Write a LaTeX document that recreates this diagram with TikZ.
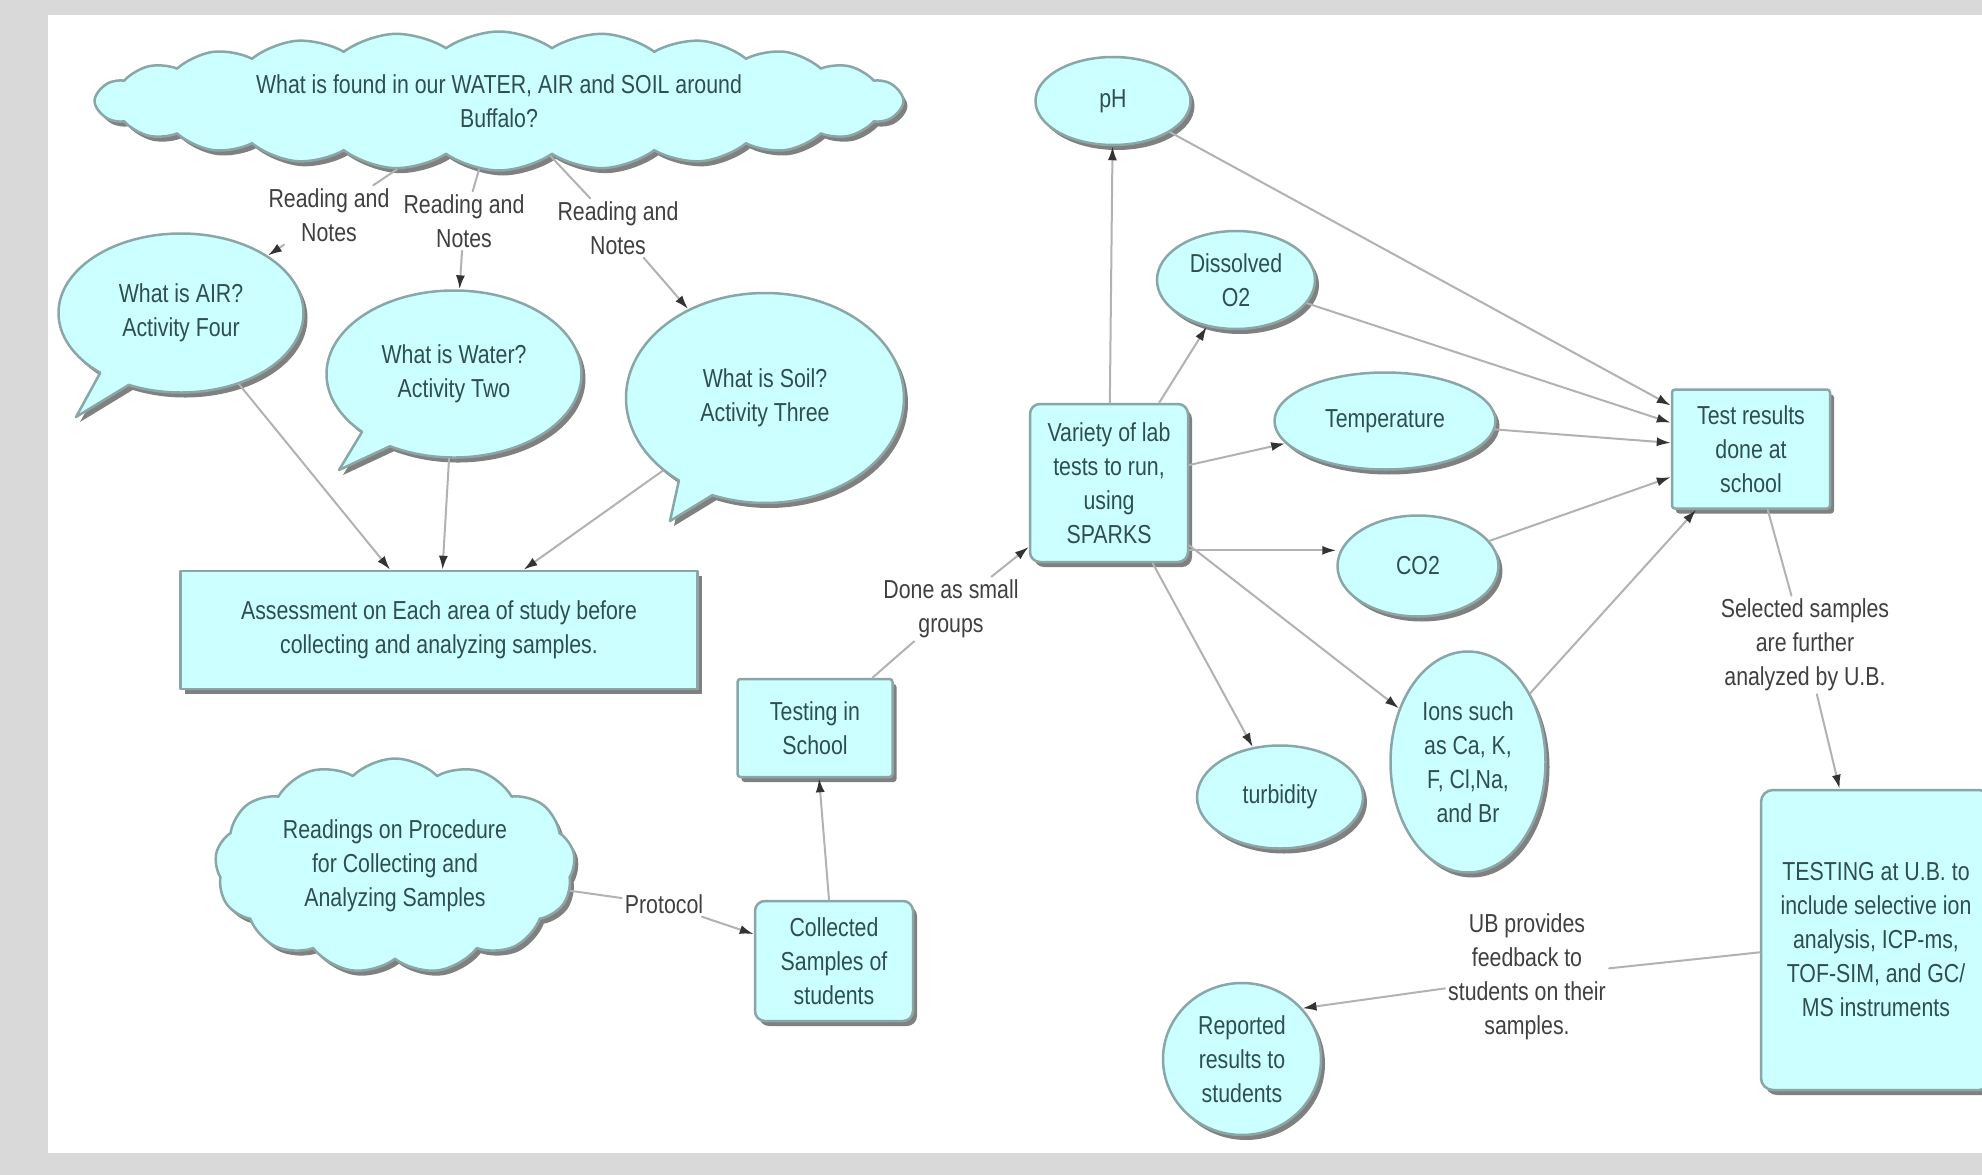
\documentclass[tikz,border=0pt]{standalone}
\usepackage{fontspec}
\setmainfont[FakeStretch=0.82]{Liberation Sans}
\usetikzlibrary{arrows.meta,shapes.symbols,shapes.callouts,shapes.geometric,shadows}
\definecolor{pagegray}{HTML}{D9D9D9}
\definecolor{mapfill}{HTML}{CCFFFF}
\definecolor{mapline}{HTML}{8AA6A6}
\definecolor{maptext}{HTML}{2F4F4F}
\definecolor{labtext}{HTML}{404040}

\begin{document}
\begin{tikzpicture}[x=1pt,y=-1pt,line cap=round,line join=round,
  every node/.style={font=\fontsize{26}{34}\selectfont,align=center,inner sep=0pt},
  concept/.style={draw=mapline,line width=2.5pt,fill=mapfill,text=maptext,
    drop shadow={shadow xshift=4pt,shadow yshift=-5pt,fill=black!50,opacity=1}},
  lab/.style={text=labtext,inner sep=3pt},
  link/.style={draw=black!30,line width=2pt},
  arr/.style={link,-{Latex[length=14pt,width=9pt,color=black!80]}}]
\useasboundingbox (0,0) rectangle (1982,1175);
\clip (0,0) rectangle (1982,1175);
\fill[pagegray] (0,0) rectangle (1982,1175);
\fill[white] (48,15) rectangle (1982,1153);
% left part: readings
\node[concept,cloud,cloud puffs=24,cloud puff arc=70,cloud ignores aspect,minimum width=809,minimum height=139] (cloudq) at (499,101) {What is found in our WATER, AIR and SOIL around\\Buffalo?};
\node[lab] (lone) at (329,215) {Reading and\\Notes};
\node[lab] (ltwo) at (464,221) {Reading and\\Notes};
\node[lab] (lthree) at (618,228) {Reading and\\Notes};
\node[concept,ellipse callout,callout absolute pointer={(76,417)},callout pointer arc=16,minimum width=245,minimum height=159] (air) at (181,313) {What is AIR?\\Activity Four};
\node[concept,ellipse callout,callout absolute pointer={(339,470)},callout pointer arc=16,minimum width=255,minimum height=167] (water) at (454,374) {What is Water?\\Activity Two};
\node[concept,ellipse callout,callout absolute pointer={(670,521)},callout pointer arc=16,minimum width=278,minimum height=210] (soil) at (765,398) {What is Soil?\\Activity Three};
\node[concept,rectangle,minimum width=517,minimum height=118] (assess) at (439,630) {Assessment on Each area of study before\\collecting and analyzing samples.};
\node[concept,cloud,cloud puffs=13,cloud puff arc=90,cloud ignores aspect,minimum width=360,minimum height=215] (readcloud) at (395,866) {Readings on Procedure\\for Collecting and\\Analyzing Samples};
\node[lab] (protocol) at (664,904) {Protocol};
\node[concept,rectangle,rounded corners=10pt,minimum width=158,minimum height=120] (collected) at (834,961) {Collected\\Samples of\\students};
\node[concept,rectangle,rounded corners=3pt,minimum width=155,minimum height=98] (testing) at (815,728) {Testing in\\School};
\node[lab] (done) at (951,609) {Done as small\\groups};
% lab tests
\node[concept,rectangle,rounded corners=10pt,minimum width=158,minimum height=158] (variety) at (1109,483) {Variety of lab\\tests to run,\\using\\SPARKS};
\node[concept,ellipse,minimum width=155,minimum height=88] (ph) at (1113,101) {pH};
\node[concept,ellipse,minimum width=158,minimum height=98] (oxygen) at (1236,280) {Dissolved\\O2};
\node[concept,ellipse,minimum width=221,minimum height=97] (temp) at (1385,421) {Temperature};
\node[concept,ellipse,minimum width=161,minimum height=101] (cotwo) at (1418,566) {CO2};
\node[concept,ellipse,minimum width=155,minimum height=221] (ions) at (1468,762) {Ions such\\as Ca, K,\\F, Cl,Na,\\and Br};
\node[concept,ellipse,minimum width=166,minimum height=103] (turbid) at (1280,797) {turbidity};
\node[concept,rectangle,rounded corners=3pt,minimum width=158,minimum height=119] (results) at (1751,449) {Test results\\done at\\school};
\node[lab] (selected) at (1805,645) {Selected samples\\are further\\analyzed by U.B.};
\node[concept,rectangle,rounded corners=12pt,minimum width=230,minimum height=300] (ubtest) at (1876,940) {TESTING at U.B. to\\include selective ion\\analysis, ICP-ms,\\TOF-SIM, and GC/\\MS instruments};
\node[lab] (ubfeed) at (1527,977) {UB provides\\feedback to\\students on their\\samples.};
\node[concept,ellipse,minimum width=158,minimum height=152] (reported) at (1242,1059) {Reported\\results to\\students};
% connectors
\draw[link] (cloudq) -- (lone);
\draw[arr] (lone) -- (air);
\draw[link] (cloudq) -- (ltwo);
\draw[arr] (ltwo) -- (water);
\draw[link] (cloudq) -- (lthree);
\draw[arr] (lthree) -- (soil);
\draw[arr] (air) -- (assess);
\draw[arr] (water) -- (assess);
\draw[arr] (soil) -- (assess);
\draw[link] (readcloud) -- (protocol);
\draw[arr] (protocol) -- (collected);
\draw[arr] (collected) -- (testing);
\draw[link] (testing) -- (done);
\draw[arr] (done) -- (variety);
\draw[arr] (variety) -- (ph);
\draw[arr] (variety) -- (oxygen);
\draw[arr] (variety) -- (temp);
\draw[arr] (variety.320) -- (variety.320 -| cotwo.west);
\draw[arr] (variety) -- (ions);
\draw[arr] (variety) -- (turbid);
\foreach \src in {ph,oxygen,temp,cotwo,ions}
  \draw[arr] (\src) -- (results);
\draw[link] (results) -- (selected);
\draw[arr] (selected) -- (ubtest);
\draw[link] (ubtest) -- (ubfeed);
\draw[arr] (ubfeed) -- (reported.40);
\end{tikzpicture}
\end{document}
